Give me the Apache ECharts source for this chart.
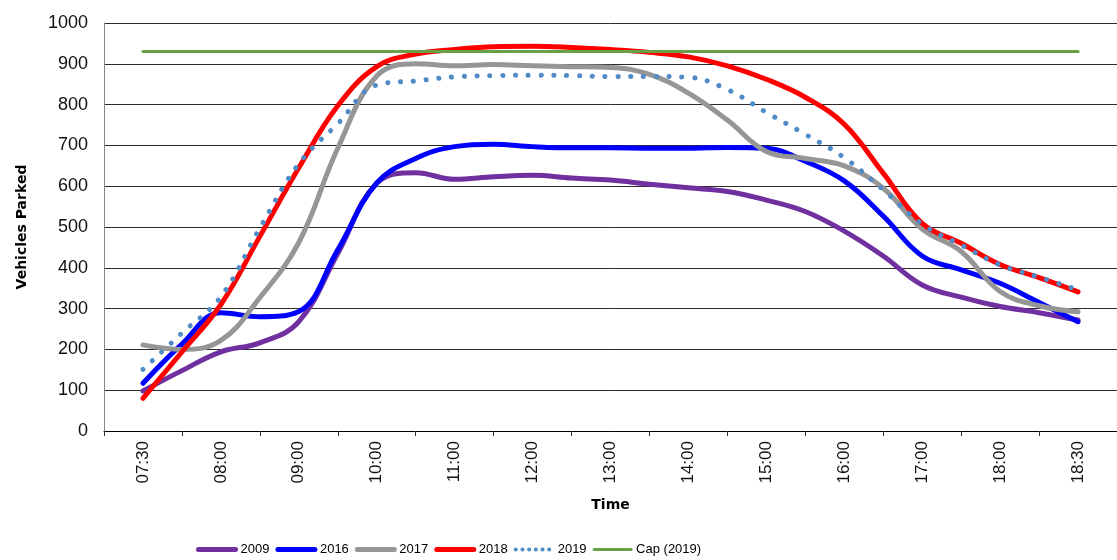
<!DOCTYPE html>
<html><head><meta charset="utf-8">
<script src="https://cdn.jsdelivr.net/npm/echarts@6/dist/echarts.min.js"></script>
<style>html,body{margin:0;padding:0;background:#fff}#c{width:1117px;height:560px}</style>
</head><body><div id="c"></div>
<script>
// Category labels on the time axis
const categories = ['07:30','08:00','09:00','10:00','11:00','12:00','13:00','14:00','15:00','16:00','17:00','18:00','18:30'];
const slots = [0, 0.5, 1, 1.5, 2, 2.5, 3, 3.5, 4, 4.5, 5, 5.5, 6, 6.5, 7, 7.5, 8, 8.5, 9, 9.5, 10, 10.5, 11, 11.5, 12];
const y2009 = [98, 148, 194, 216, 268, 435, 607, 633, 617, 623, 627, 620, 615, 605, 596, 587, 566, 538, 490, 429, 358, 328, 305, 290, 272];
const y2016 = [117, 213, 290, 280, 293, 444, 608, 668, 697, 703, 697, 694, 694, 693, 693, 695, 693, 661, 613, 527, 429, 395, 362, 315, 268];
const y2017 = [211, 200, 222, 327, 462, 693, 870, 900, 895, 898, 895, 893, 891, 874, 828, 762, 685, 668, 650, 595, 495, 440, 342, 307, 292];
const y2018 = [80, 194, 310, 477, 645, 797, 893, 924, 935, 942, 943, 940, 935, 928, 917, 895, 862, 818, 752, 632, 509, 460, 408, 376, 341];
const y2019 = [151, 240, 329, 497, 655, 753, 848, 858, 868, 871, 872, 871, 869, 869, 867, 837, 781, 727, 670, 591, 507, 456, 407, 377, 346];
const capSlots = [0, 12];
const cap2019 = [930, 930];
const yMin = 0, yMax = 1000, yStep = 100;

function pairs(xs, ys) { return xs.map((x, i) => [x, ys[i]]); }

const chart = echarts.init(document.getElementById('c'), null, {renderer: 'canvas'});
const SM = 0.4;
function mk(name, xs, ys, color, width, dash) {
  return {
    name: name, type: 'line', xAxisIndex: 1, data: pairs(xs, ys), smooth: SM,
    symbol: 'none', showSymbol: false,
    lineStyle: {color: color, width: width, cap: 'round', join: 'round', type: dash || 'solid'},
    itemStyle: {color: color},
    emphasis: {disabled: true}, animation: false
  };
}
const lab = {fontFamily: 'Liberation Sans, Arial', color: '#111'};
chart.setOption({
  animation: false,
  grid: {left: 104, right: 0, top: 23, bottom: 129, containLabel: false},
  legend: {
    left: 191, top: 538, itemWidth: 37, itemHeight: 14, itemGap: 6,
    itemStyle: {opacity: 0},
    textStyle: {fontFamily: 'Liberation Sans, Arial', fontSize: 13, color: '#000'},
    data: [
      {name: '2009', lineStyle: {width: 5}},
      {name: '2016', lineStyle: {width: 5}},
      {name: '2017', lineStyle: {width: 5}},
      {name: '2018', lineStyle: {width: 5}},
      {name: '2019', lineStyle: {width: 4, type: [0.1, 6.6], cap: 'round'}},
      {name: 'Cap (2019)', lineStyle: {width: 3}}
    ]
  },
  xAxis: [{
    type: 'category', data: categories, boundaryGap: true,
    name: 'Time', nameLocation: 'middle', nameGap: 67,
    nameTextStyle: {fontFamily: 'DejaVu Sans', fontWeight: 'bold', fontSize: 14, color: '#000'},
    axisLine: {lineStyle: {color: '#000', width: 1}},
    axisTick: {show: true, length: 5, lineStyle: {color: '#333'}},
    axisLabel: Object.assign({rotate: 90, fontSize: 17, margin: 10}, lab),
    splitLine: {show: false}
  }, {
    type: 'value', min: -0.5, max: 12.5, show: false
  }],
  yAxis: {
    type: 'value', min: yMin, max: yMax, interval: yStep,
    name: 'Vehicles Parked', nameLocation: 'middle', nameGap: 75, nameRotate: 90,
    nameTextStyle: {fontFamily: 'DejaVu Sans', fontWeight: 'bold', fontSize: 14, color: '#000'},
    axisLine: {show: true, onZero: false, lineStyle: {color: '#888', width: 1}},
    axisTick: {show: false},
    axisLabel: Object.assign({fontSize: 18, margin: 16, formatter: v => String(v)}, lab),
    splitLine: {show: true, lineStyle: {color: '#2a2a2a', width: 1}}
  },
  series: [
    mk('2009', slots, y2009, '#7030A0', 5),
    mk('2016', slots, y2016, '#0000FF', 5),
    mk('2017', slots, y2017, '#969696', 5),
    mk('2018', slots, y2018, '#FF0000', 5),
    mk('2019', slots, y2019, '#4F8BC6', 5, [0.1, 12.7]),
    Object.assign(mk('Cap (2019)', capSlots, cap2019, '#6AA045', 3), {smooth: false})
  ]
});
</script></body></html>
